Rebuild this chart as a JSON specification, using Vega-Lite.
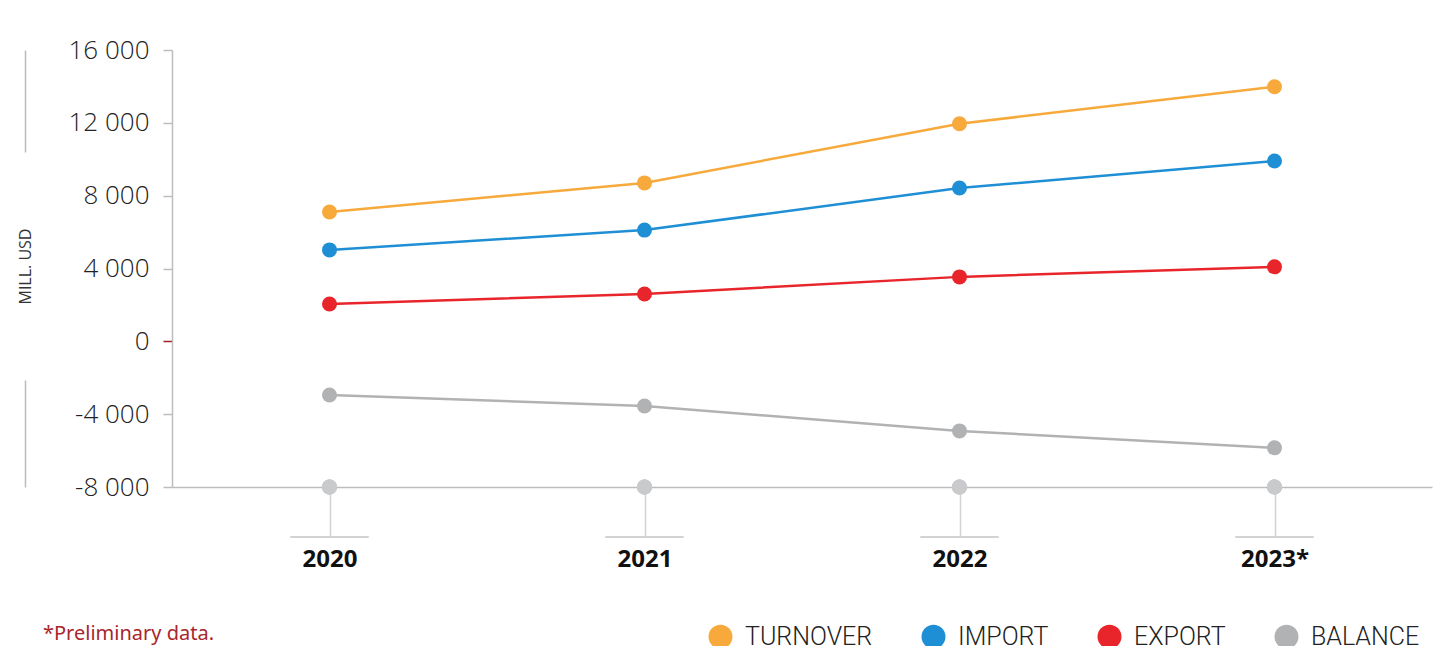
{
  "$schema": "https://vega.github.io/schema/vega-lite/v6.json",
  "autosize": {"type": "none"},
  "padding": {"left": 172, "top": 50, "right": 8, "bottom": 159},
  "width": 1260,
  "height": 437,
  "background": "white",
  "config": {"view": {"stroke": null}},
  "title": {"text": "*Preliminary data.", "orient": "bottom", "anchor": "start", "frame": "group", "dx": -129, "offset": -26, "font": "Noto Sans", "fontSize": 20, "fontWeight": 400, "color": "#a8262c"},
  "data": {"values": [
    {"year": "2020", "series": "TURNOVER", "value": 7100},
    {"year": "2021", "series": "TURNOVER", "value": 8700},
    {"year": "2022", "series": "TURNOVER", "value": 11950},
    {"year": "2023*", "series": "TURNOVER", "value": 13980},
    {"year": "2020", "series": "IMPORT", "value": 5020},
    {"year": "2021", "series": "IMPORT", "value": 6110},
    {"year": "2022", "series": "IMPORT", "value": 8420},
    {"year": "2023*", "series": "IMPORT", "value": 9900},
    {"year": "2020", "series": "EXPORT", "value": 2050},
    {"year": "2021", "series": "EXPORT", "value": 2600},
    {"year": "2022", "series": "EXPORT", "value": 3540},
    {"year": "2023*", "series": "EXPORT", "value": 4090},
    {"year": "2020", "series": "BALANCE", "value": -2950},
    {"year": "2021", "series": "BALANCE", "value": -3550},
    {"year": "2022", "series": "BALANCE", "value": -4920},
    {"year": "2023*", "series": "BALANCE", "value": -5850}
  ]},
  "encoding": {
    "x": {"field": "year", "type": "ordinal", "scale": {"type": "point", "padding": 0.5},
      "axis": {"title": null, "labelAngle": 0, "domainColor": "#bdbdbd", "domainWidth": 1.5, "tickSize": 50, "tickColor": "#d2d2d2", "tickWidth": 1.5, "labelFont": "Open Sans", "labelFontSize": 24, "labelFontWeight": "bold", "labelColor": "#111", "labelPadding": 10, "grid": false}}
  },
  "layer": [
    {
      "mark": {"type": "rule", "color": "#a31f24", "strokeWidth": 1.2},
      "encoding": {
        "y": {"datum": 0, "type": "quantitative", "scale": {"domain": [-8000, 16000], "nice": false},
          "axis": {"orient": "left", "offset": 147, "labels": false, "ticks": false, "grid": false, "domainColor": "#bbbbbb", "domainWidth": 1.5, "domainDash": [107, 228, 300], "title": "MILL. USD", "titleX": 0, "titleY": 216, "titleAngle": -90, "titleAlign": "center", "titleBaseline": "middle", "titleFont": "Open Sans", "titleFontSize": 16, "titleFontWeight": 400, "titleColor": "#333"}}
      }
    },
    {
      "mark": {"type": "tick", "color": "#d2d2d2", "size": 78, "thickness": 1.5},
      "encoding": {"y": {"datum": -10746, "type": "quantitative", "axis": null}}
    },
    {
      "mark": {"type": "line", "strokeWidth": 2.5},
      "encoding": {
        "y": {"field": "value", "type": "quantitative",
          "axis": {"orient": "left", "values": [-8000, -4000, 0, 4000, 8000, 12000, 16000], "labelExpr": "replace(replace(format(datum.value, ','), ',', ' '), '\u2212', '-')", "labelFont": "Open Sans", "labelFontSize": 26, "labelFontWeight": 300, "labelColor": "#222", "labelPadding": 14, "tickSize": 9, "tickWidth": 1.5, "tickColor": {"condition": {"test": "datum.value === 0", "value": "#a31f24"}, "value": "#bdbdbd"}, "domainColor": "#bdbdbd", "domainWidth": 1.5, "gridColor": "#e6e6e6", "gridWidth": 1.2, "title": null}},
        "color": {"field": "series", "type": "nominal", "scale": {"domain": ["TURNOVER", "IMPORT", "EXPORT", "BALANCE"], "range": ["#f7a93b", "#1f8fd5", "#e8252b", "#b1b2b4"]}}
      }
    },
    {
      "mark": {"type": "point", "filled": true, "opacity": 1, "size": 225, "color": "#c9cacc"},
      "encoding": {"y": {"datum": -8000, "type": "quantitative", "axis": null}}
    },
    {
      "mark": {"type": "point", "filled": true, "opacity": 1, "size": 225},
      "encoding": {
        "y": {"field": "value", "type": "quantitative", "axis": null},
        "color": {"field": "series", "type": "nominal",
          "legend": {"orient": "none", "legendX": 536, "legendY": 574, "direction": "horizontal", "title": null, "symbolType": "circle", "symbolSize": 576, "symbolStrokeWidth": 0, "symbolOpacity": 1, "labelFont": "Roboto", "labelFontSize": 25, "labelFontWeight": 300, "labelColor": "#222", "labelOffset": 12, "columnPadding": 48, "padding": 0, "labelLimit": 300}}
      }
    }
  ],
  "resolve": {"axis": {"y": "independent"}}
}
